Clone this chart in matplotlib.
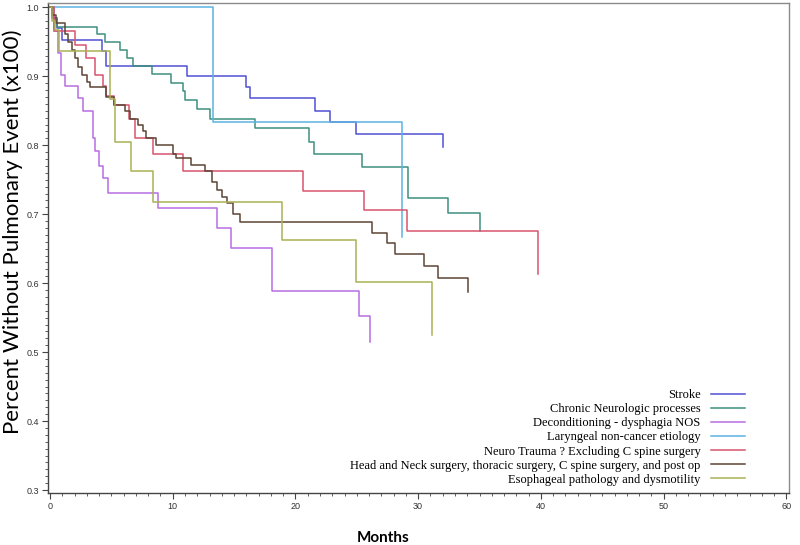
import matplotlib
matplotlib.use('Agg')
import matplotlib.pyplot as plt
from matplotlib.ticker import MultipleLocator

# Kaplan-Meier style step curves: month at which each step starts, and survival after it
labels = [
    'Stroke',
    'Chronic Neurologic processes',
    'Deconditioning - dysphagia NOS',
    'Laryngeal non-cancer etiology',
    'Neuro Trauma ? Excluding C spine surgery',
    'Head and Neck surgery, thoracic surgery, C spine surgery, and post op',
    'Esophageal pathology and dysmotility',
]
colors = ['#4f4fd6', '#3d8f7d', '#b86ee2', '#5cb3e2', '#d9536d', '#5e4535', '#a9b152']

stroke_t = [0, 0.2, 0.6, 1.0, 4.2, 4.6, 11.2, 16.0, 16.3, 21.6, 22.8, 24.9, 32.0]
stroke_s = [1.0, 0.985, 0.97, 0.953, 0.936, 0.915, 0.900, 0.885, 0.868, 0.849, 0.834, 0.817, 0.798]

chronic_t = [0, 0.3, 0.6, 3.8, 4.5, 5.7, 6.25, 6.8, 8.3, 9.9, 10.8, 11.0, 12.0, 13.0,
             16.7, 21.1, 21.5, 25.4, 29.2, 32.4, 35.0]
chronic_s = [1.0, 0.985, 0.972, 0.962, 0.950, 0.938, 0.926, 0.915, 0.903, 0.890, 0.878, 0.866,
             0.852, 0.838, 0.825, 0.805, 0.787, 0.768, 0.723, 0.702, 0.676]

decond_t = [0, 0.3, 0.68, 0.9, 1.2, 2.3, 2.66, 3.5, 3.7, 4.0, 4.35, 4.7, 8.8, 13.6, 14.75,
            18.1, 25.2, 26.1]
decond_s = [1.0, 0.965, 0.934, 0.902, 0.886, 0.868, 0.849, 0.81, 0.791, 0.77, 0.752, 0.731,
            0.709, 0.680, 0.651, 0.588, 0.552, 0.515]

laryn_t = [0, 13.3, 28.7]
laryn_s = [1.0, 0.833, 0.667]

neuro_t = [0, 0.3, 2.0, 2.9, 3.7, 4.3, 4.6, 5.2, 6.4, 6.9, 8.4, 10.8, 20.6, 25.6, 29.1, 39.8]
neuro_s = [1.0, 0.965, 0.946, 0.926, 0.902, 0.886, 0.872, 0.858, 0.838, 0.810, 0.787, 0.762,
           0.734, 0.706, 0.676, 0.614]

headneck_t = [0, 0.2, 0.5, 1.2, 1.5, 1.8, 2.0, 2.3, 2.6, 3.0, 3.3, 4.6, 5.2, 6.1, 6.5, 7.2,
              7.6, 7.8, 8.6, 10.0, 10.3, 11.5, 12.6, 13.2, 13.6, 14.0, 14.4, 14.9, 15.5,
              26.2, 27.5, 28.1, 30.5, 31.6, 34.1]
headneck_s = [1.0, 0.989, 0.977, 0.962, 0.950, 0.938, 0.926, 0.914, 0.902, 0.892, 0.885,
              0.870, 0.858, 0.849, 0.838, 0.829, 0.820, 0.811, 0.800, 0.788, 0.781, 0.771,
              0.762, 0.747, 0.735, 0.725, 0.716, 0.701, 0.689, 0.673, 0.658, 0.642, 0.625,
              0.608, 0.587]

esoph_t = [0, 0.2, 0.4, 0.7, 4.9, 5.3, 6.6, 8.4, 18.9, 24.9, 31.1]
esoph_s = [1.0, 0.98, 0.967, 0.936, 0.867, 0.805, 0.762, 0.717, 0.662, 0.601, 0.525]

series = [
    (stroke_t, stroke_s),
    (chronic_t, chronic_s),
    (decond_t, decond_s),
    (laryn_t, laryn_s),
    (neuro_t, neuro_s),
    (headneck_t, headneck_s),
    (esoph_t, esoph_s),
]

fig = plt.figure(figsize=(8, 5.45), dpi=100)
ax = fig.add_axes([0.06, 0.0954, 0.926, 0.8985])

for (t, s), lab, c in zip(series, labels, colors):
    ax.plot(t, s, drawstyle='steps-post', color=c, lw=1.1, label=lab)

ax.set_xlim(-0.16, 60.2)
ax.set_ylim(0.2957, 1.0058)
ax.xaxis.set_major_locator(MultipleLocator(10))
ax.xaxis.set_minor_locator(MultipleLocator(1))
ax.yaxis.set_major_locator(MultipleLocator(0.1))
ax.yaxis.set_minor_locator(MultipleLocator(0.01))
ax.yaxis.set_major_formatter(plt.FuncFormatter(lambda v, p: f'{v:.1f}'))

for sp in ax.spines.values():
    sp.set_color('#8a8a8a')
    sp.set_linewidth(1.0)
ax.spines['left'].set_color('#444444')
ax.spines['bottom'].set_color('#444444')

ax.tick_params(which='major', length=4, width=0.8, color='#444444',
               labelsize=6.5, labelcolor='#333333', pad=2.5)
ax.tick_params(which='minor', length=2.5, width=0.6, color='#444444')
for lbl in ax.get_xticklabels() + ax.get_yticklabels():
    lbl.set_family('Liberation Sans')

fig.text(13 / 800, 1 - 232 / 545, 'Percent Without Pulmonary Event (x100)',
         rotation=90, ha='center', va='center', fontsize=16, family='Lato')
fig.text(383 / 800, 1 - 538 / 545, 'Months', ha='center', va='center',
         fontsize=11, fontweight='bold', family='Lato')

leg = ax.legend(loc='lower right', bbox_to_anchor=(751 / 800, 1 - 492 / 545),
                bbox_transform=fig.transFigure, frameon=False, markerfirst=False,
                prop={'family': 'Liberation Serif', 'size': 9},
                handlelength=2.7, handletextpad=0.85, labelspacing=0.17, borderpad=0)

fig.savefig('out.png', dpi=100)
